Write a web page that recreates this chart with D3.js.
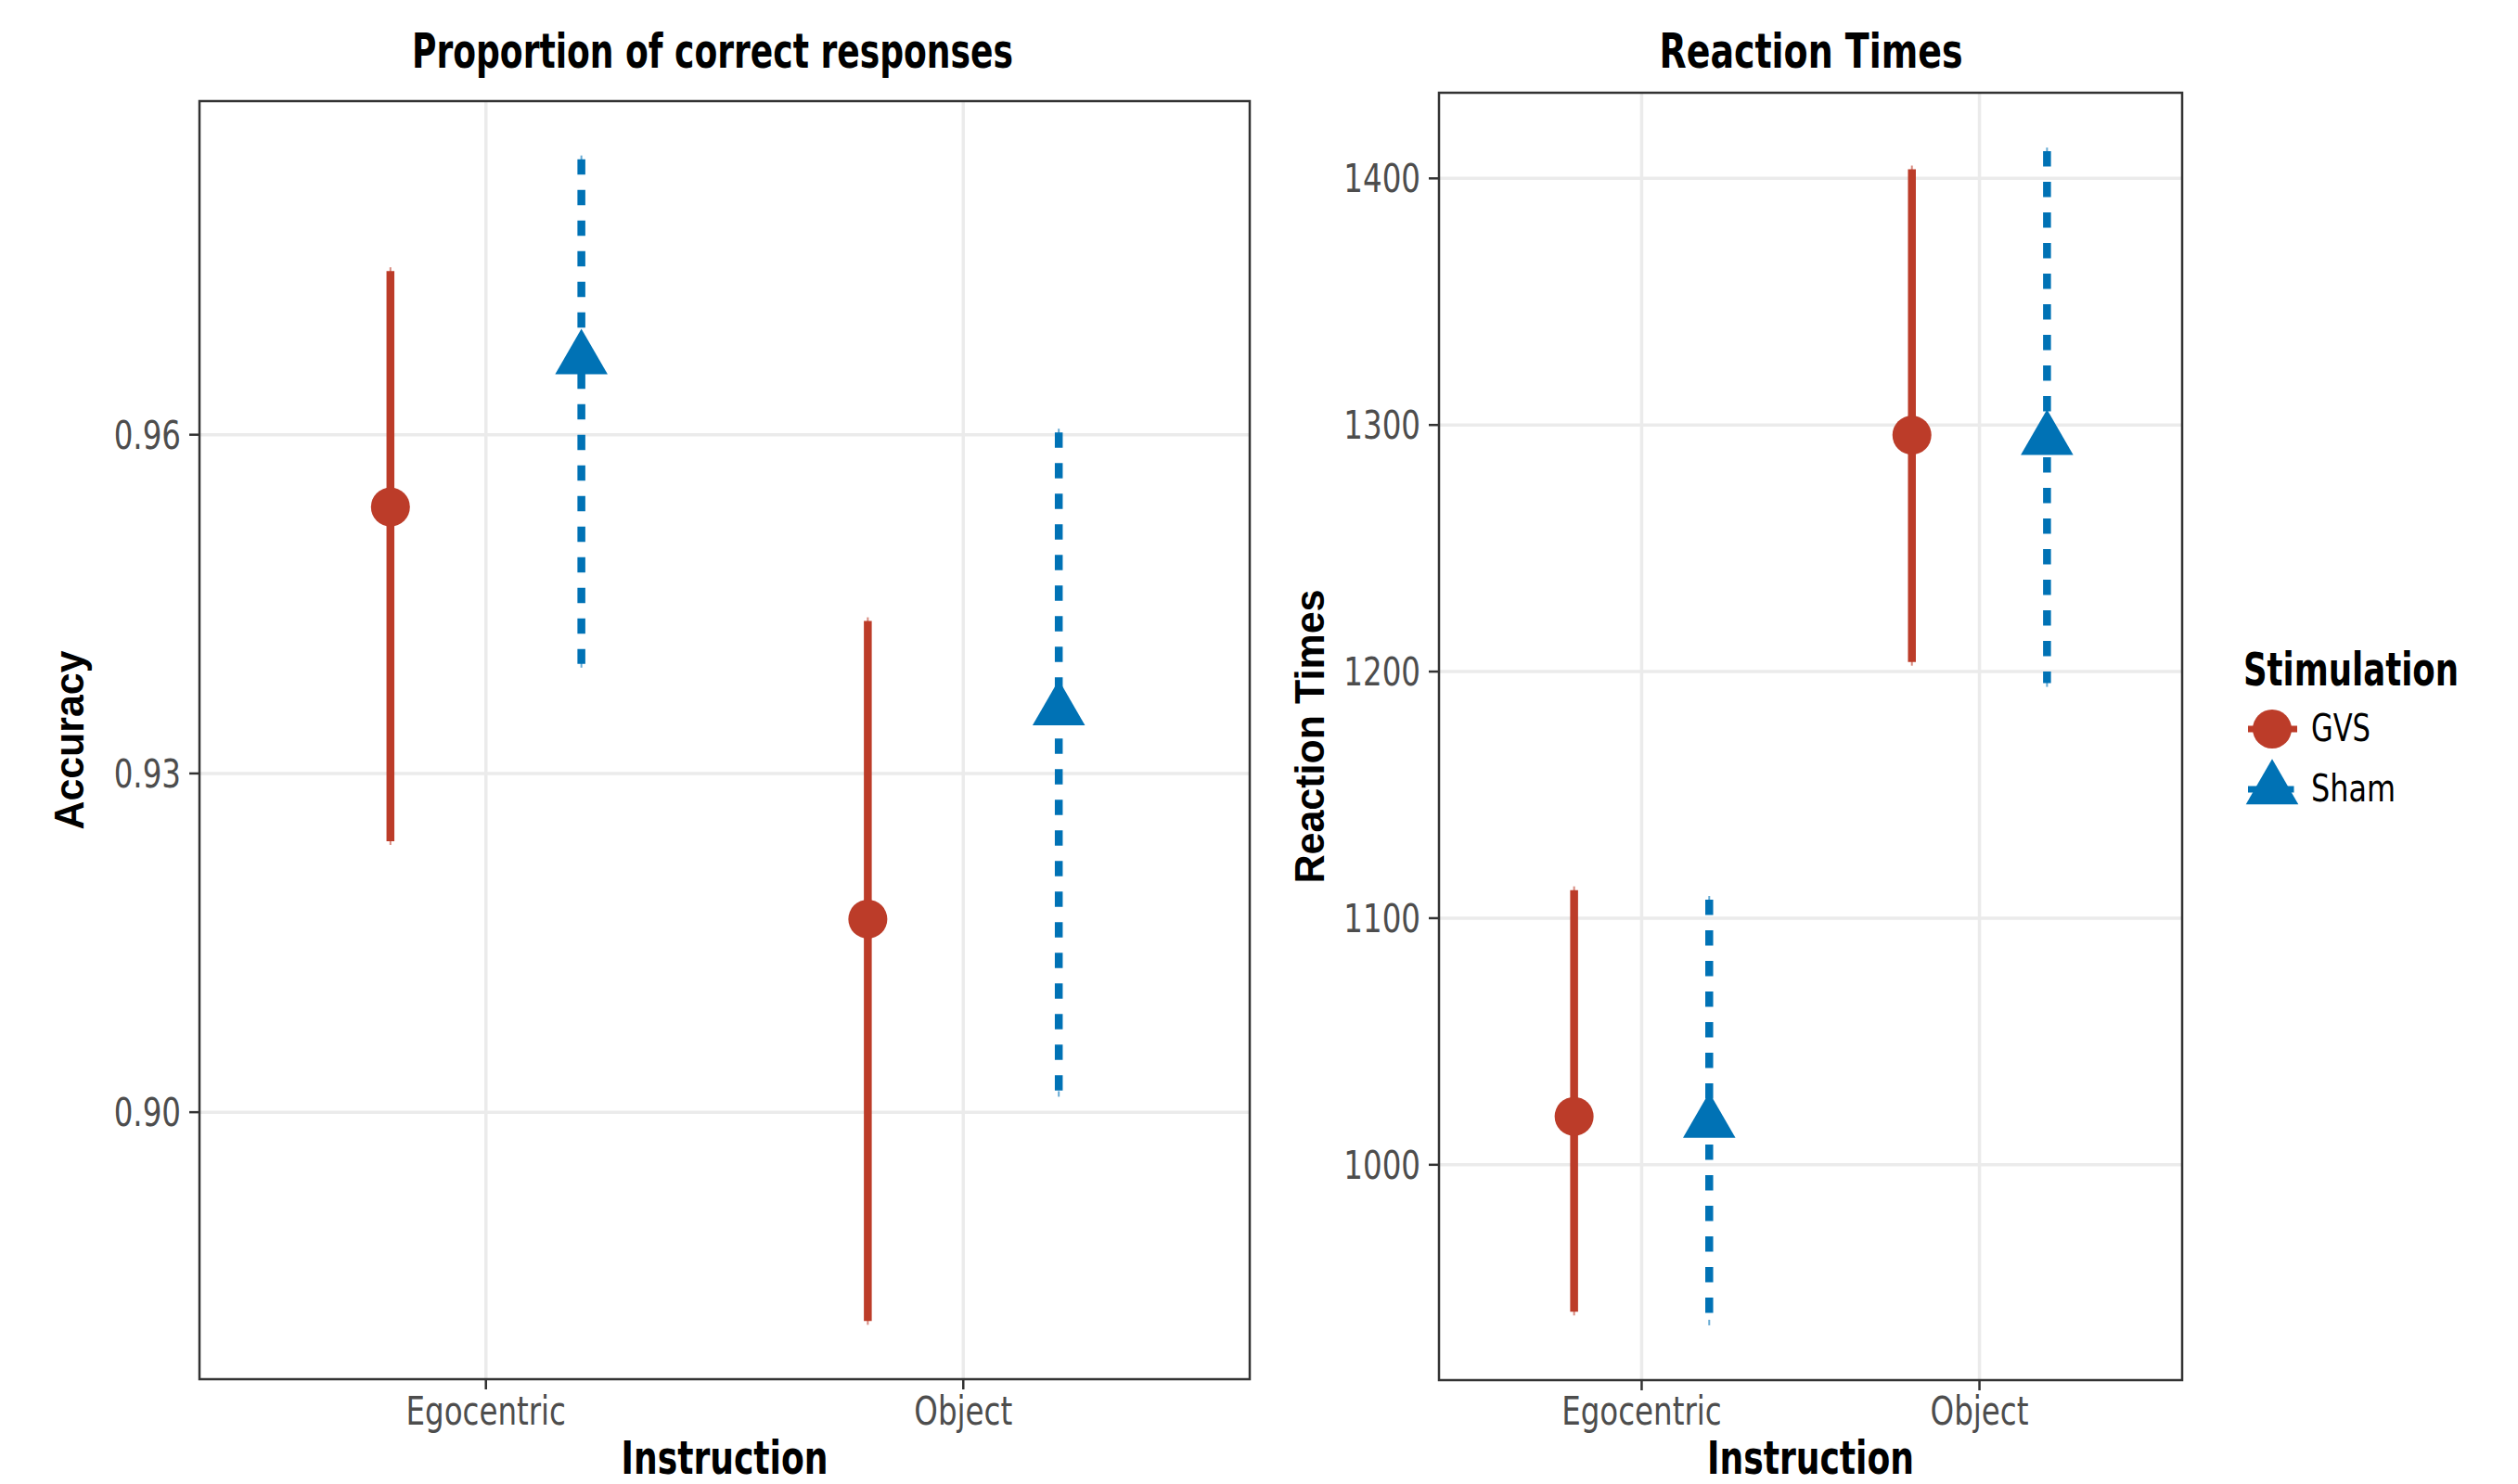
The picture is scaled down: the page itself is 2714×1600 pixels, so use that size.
<!DOCTYPE html>
<html>
<head>
<meta charset="utf-8">
<script src="https://cdn.jsdelivr.net/npm/d3@7"></script>
<style>
  html, body { margin: 0; padding: 0; background: #ffffff; }
  svg { display: block; }
</style>
</head>
<body>
<svg id="chart" width="2714" height="1600"></svg>
<script>
// ---------------- data ----------------
const instruction = ["Egocentric", "Object"];
const stimulation = ["GVS", "Sham"];

const accMeanGVS  = [0.9536, 0.9171];
const accLowGVS   = [0.9240, 0.8815];
const accHighGVS  = [0.9745, 0.9435];
const accMeanSham = [0.9667, 0.9356];
const accLowSham  = [0.9397, 0.9017];
const accHighSham = [0.9844, 0.9602];

const rtMeanGVS  = [1019.6, 1295.9];
const rtLowGVS   = [940.4, 1203.9];
const rtHighGVS  = [1111.4, 1403.7];
const rtMeanSham = [1017.1, 1294.0];
const rtLowSham  = [936.4, 1195.3];
const rtHighSham = [1107.5, 1411.0];

const accTicks = [0.90, 0.93, 0.96];
const accTickLabels = ["0.90", "0.93", "0.96"];
const rtTicks = [1000, 1100, 1200, 1300, 1400];
const rtTickLabels = ["1000", "1100", "1200", "1300", "1400"];

// ---------------- styles ----------------
const colors = { GVS: "#BC3C29", Sham: "#0072B5" };
const dashes = { GVS: null, Sham: "16.5,16.5" };
const shapes = { GVS: "circle", Sham: "triangle" };
const NARROW = "'Liberation Sans Narrow', 'DejaVu Sans Condensed', 'Liberation Sans', Arial, sans-serif";
const WIDE = "'Liberation Sans', Arial, sans-serif";

const svg = d3.select("#chart");

function fitWidth(sel, w) {
  sel.attr("textLength", w).attr("lengthAdjust", "spacingAndGlyphs");
}
function condense(sel, k) {
  sel.each(function () {
    const n = this.getComputedTextLength();
    d3.select(this).attr("textLength", n * k).attr("lengthAdjust", "spacingAndGlyphs");
  });
}

function buildRows(mG, lG, hG, mS, lS, hS) {
  const rows = [];
  instruction.forEach((ins, i) => {
    rows.push({ ins: i, stim: "GVS", mean: mG[i], lo: lG[i], hi: hG[i] });
    rows.push({ ins: i, stim: "Sham", mean: mS[i], lo: lS[i], hi: hS[i] });
  });
  return rows;
}

const R = 21; // point radius
function trianglePath(cx, cy, r) {
  const t0 = 1.5551, t1 = 1.3468, t2 = 0.7776;
  return `M${cx},${cy - t0 * r}L${cx + t1 * r},${cy + t2 * r}L${cx - t1 * r},${cy + t2 * r}Z`;
}
function drawPoint(g, stim, cx, cy) {
  if (shapes[stim] === "circle") {
    g.append("circle").attr("cx", cx).attr("cy", cy).attr("r", R).attr("fill", colors[stim]);
  } else {
    g.append("path").attr("d", trianglePath(cx, cy, R)).attr("fill", colors[stim]);
  }
}

function drawPanel(opt) {
  const { x0, x1, y0, y1, rows, ticks, tickLabels, title, titleX, titleW, ytitle, ytitleX, ytitleW, tickRight } = opt;
  const g = svg.append("g");
  const lo = d3.min(rows, d => d.lo), hi = d3.max(rows, d => d.hi);
  const pad = (hi - lo) * 0.05;
  const y = d3.scaleLinear().domain([lo - pad, hi + pad]).range([y1, y0]);
  const x = d3.scaleLinear().domain([0.4, 2.6]).range([x0, x1]);
  const dodge = { GVS: -0.2, Sham: 0.2 };

  // grid
  g.append("g").selectAll("line").data(ticks).join("line")
    .attr("x1", x0).attr("x2", x1).attr("y1", d => y(d)).attr("y2", d => y(d))
    .attr("stroke", "#EBEBEB").attr("stroke-width", 3.5);
  g.append("g").selectAll("line").data(instruction).join("line")
    .attr("x1", (d, i) => x(i + 1)).attr("x2", (d, i) => x(i + 1)).attr("y1", y0).attr("y2", y1)
    .attr("stroke", "#EBEBEB").attr("stroke-width", 3.5);

  // error bars
  const eb = g.append("g");
  rows.forEach(d => {
    const cx = x(d.ins + 1 + dodge[d.stim]);
    // thin end stubs (tiny caps)
    [[y(d.hi) - 4, y(d.hi) + 2], [y(d.lo) - 2, y(d.lo) + 4]].forEach(([a, b]) => {
      eb.append("line").attr("x1", cx).attr("x2", cx).attr("y1", a).attr("y2", b)
        .attr("stroke", colors[d.stim]).attr("stroke-width", 2).attr("stroke-opacity", 0.6);
    });
    const ln = eb.append("line").attr("x1", cx).attr("x2", cx).attr("y1", y(d.hi)).attr("y2", y(d.lo))
      .attr("stroke", colors[d.stim]).attr("stroke-width", 8.5);
    if (dashes[d.stim]) ln.attr("stroke-dasharray", dashes[d.stim]);
  });
  // points
  const pts = g.append("g");
  rows.forEach(d => drawPoint(pts, d.stim, x(d.ins + 1 + dodge[d.stim]), y(d.mean)));

  // border
  g.append("rect").attr("x", x0).attr("y", y0).attr("width", x1 - x0).attr("height", y1 - y0)
    .attr("fill", "none").attr("stroke", "#333333").attr("stroke-width", 2.5);

  // y axis ticks + labels
  g.append("g").selectAll("line").data(ticks).join("line")
    .attr("x1", x0 - 11).attr("x2", x0).attr("y1", d => y(d)).attr("y2", d => y(d))
    .attr("stroke", "#333333").attr("stroke-width", 2.5);
  const yl = g.append("g").selectAll("text").data(ticks).join("text")
    .attr("x", tickRight).attr("y", d => y(d) + 15)
    .attr("text-anchor", "end").attr("font-family", NARROW).attr("font-size", 42)
    .attr("fill", "#4D4D4D").text((d, i) => tickLabels[i]);
  condense(yl, 0.86);

  // x axis ticks + labels
  g.append("g").selectAll("line").data(instruction).join("line")
    .attr("x1", (d, i) => x(i + 1)).attr("x2", (d, i) => x(i + 1)).attr("y1", y1).attr("y2", y1 + 11)
    .attr("stroke", "#333333").attr("stroke-width", 2.5);
  const xl = g.append("g").selectAll("text").data(instruction).join("text")
    .attr("x", (d, i) => x(i + 1)).attr("y", 1536)
    .attr("text-anchor", "middle").attr("font-family", NARROW).attr("font-size", 42)
    .attr("fill", "#4D4D4D").text(d => d);
  condense(xl, 0.86);

  // x title
  const xt = g.append("text").attr("x", (x0 + x1) / 2).attr("y", 1589)
    .attr("text-anchor", "middle").attr("font-family", NARROW).attr("font-weight", "bold")
    .attr("font-size", 50).attr("fill", "#000").text("Instruction");
  fitWidth(xt, 223);

  // y title
  const yt = g.append("text")
    .attr("transform", `translate(${ytitleX},${(y0 + y1) / 2}) rotate(-90)`)
    .attr("text-anchor", "middle").attr("font-family", WIDE).attr("font-weight", "bold")
    .attr("font-size", 45).attr("fill", "#000").text(ytitle);
  fitWidth(yt, ytitleW);

  // title
  const tt = g.append("text").attr("x", titleX).attr("y", 73)
    .attr("text-anchor", "middle").attr("font-family", NARROW).attr("font-weight", "bold")
    .attr("font-size", 51).attr("fill", "#000").text(title);
  fitWidth(tt, titleW);
}

drawPanel({
  x0: 215, x1: 1347, y0: 109, y1: 1487,
  rows: buildRows(accMeanGVS, accLowGVS, accHighGVS, accMeanSham, accLowSham, accHighSham),
  ticks: accTicks, tickLabels: accTickLabels,
  title: "Proportion of correct responses", titleX: 768, titleW: 648,
  ytitle: "Accuracy", ytitleX: 90, ytitleW: 193, tickRight: 195
});

drawPanel({
  x0: 1551, x1: 2352, y0: 100, y1: 1488,
  rows: buildRows(rtMeanGVS, rtLowGVS, rtHighGVS, rtMeanSham, rtLowSham, rtHighSham),
  ticks: rtTicks, tickLabels: rtTickLabels,
  title: "Reaction Times", titleX: 1952, titleW: 327,
  ytitle: "Reaction Times", ytitleX: 1427, ytitleW: 317, tickRight: 1531
});

// ---------------- legend ----------------
const lg = svg.append("g");
const lt = lg.append("text").attr("x", 2418).attr("y", 739)
  .attr("font-family", NARROW).attr("font-weight", "bold").attr("font-size", 50)
  .attr("fill", "#000").text("Stimulation");
fitWidth(lt, 232);
const keyY = { GVS: 786, Sham: 851 };
const labelW = { GVS: 64, Sham: 91 };
stimulation.forEach(s => {
  const cy = keyY[s];
  const ln = lg.append("line").attr("x1", 2423).attr("x2", 2476).attr("y1", cy).attr("y2", cy)
    .attr("stroke", colors[s]).attr("stroke-width", 7);
  if (dashes[s]) ln.attr("stroke-dasharray", dashes[s]);
  drawPoint(lg, s, 2449, cy);
  const t = lg.append("text").attr("x", 2491).attr("y", cy + 13)
    .attr("font-family", NARROW).attr("font-size", 40).attr("fill", "#000").text(s);
  fitWidth(t, labelW[s]);
});
</script>
</body>
</html>
